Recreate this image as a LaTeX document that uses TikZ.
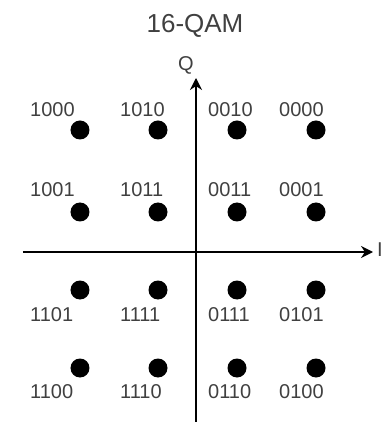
\documentclass[tikz,border=0pt]{standalone}
\usepackage{fontspec}
\setmainfont{Liberation Sans}
\usetikzlibrary{arrows.meta, positioning}

\begin{document}
\begin{tikzpicture}[
    x=1pt, y=1pt,
    every node/.style={font=\fontsize{20}{24}\selectfont, text=black!75},
    point/.style={circle, fill=black, minimum size=19pt, inner sep=0pt},
    bits/.style={anchor=west, inner sep=0pt},
    axis/.style={-{Stealth[length=12pt, width=12pt]}, line width=1.7pt}
]
\useasboundingbox (-196,-170) rectangle (190,252);

\node (title) at (-1,226) {\fontsize{26}{30}\selectfont 16-QAM};

% Axes I / Q
\coordinate (qlow)   at (0,-172);
\coordinate (qtop)   at (0,174);
\coordinate (ileft)  at (-173,0);
\coordinate (iright) at (177,0);
\draw[axis] (qlow) -- (qtop);
\draw[axis] (ileft) -- (iright);
\node (qlab) at (-10,187) {Q};
\node[bits] (ilab) at (181,2) {I};

% Constellation points
\node[point] (p1000) at (-116,122) {};
\node[point] (p1010) at (-38,122)  {};
\node[point] (p0010) at (41,122)   {};
\node[point] (p0000) at (120,122)  {};
\node[point] (p1001) at (-116,40)  {};
\node[point] (p1011) at (-38,40)   {};
\node[point] (p0011) at (41,40)    {};
\node[point] (p0001) at (120,40)   {};
\node[point] (p1101) at (-116,-38) {};
\node[point] (p1111) at (-38,-38)  {};
\node[point] (p0111) at (41,-38)   {};
\node[point] (p0101) at (120,-38)  {};
\node[point] (p1100) at (-116,-116) {};
\node[point] (p1110) at (-38,-116)  {};
\node[point] (p0110) at (41,-116)   {};
\node[point] (p0100) at (120,-116)  {};

% Bit labels
\node[bits] (l1000) at (-166,142) {1000};
\node[bits] (l1010) at (-76,142)  {1010};
\node[bits] (l0010) at (12,142)   {0010};
\node[bits] (l0000) at (83,142)   {0000};
\node[bits] (l1001) at (-166,62)  {1001};
\node[bits] (l1011) at (-76,62)   {1011};
\node[bits] (l0011) at (12,62)    {0011};
\node[bits] (l0001) at (83,62)    {0001};
\node[bits] (l1101) at (-166,-63) {1101};
\node[bits] (l1111) at (-76,-63)  {1111};
\node[bits] (l0111) at (12,-63)   {0111};
\node[bits] (l0101) at (83,-63)   {0101};
\node[bits] (l1100) at (-166,-140) {1100};
\node[bits] (l1110) at (-76,-140)  {1110};
\node[bits] (l0110) at (12,-140)   {0110};
\node[bits] (l0100) at (83,-140)   {0100};

\end{tikzpicture}
\end{document}
